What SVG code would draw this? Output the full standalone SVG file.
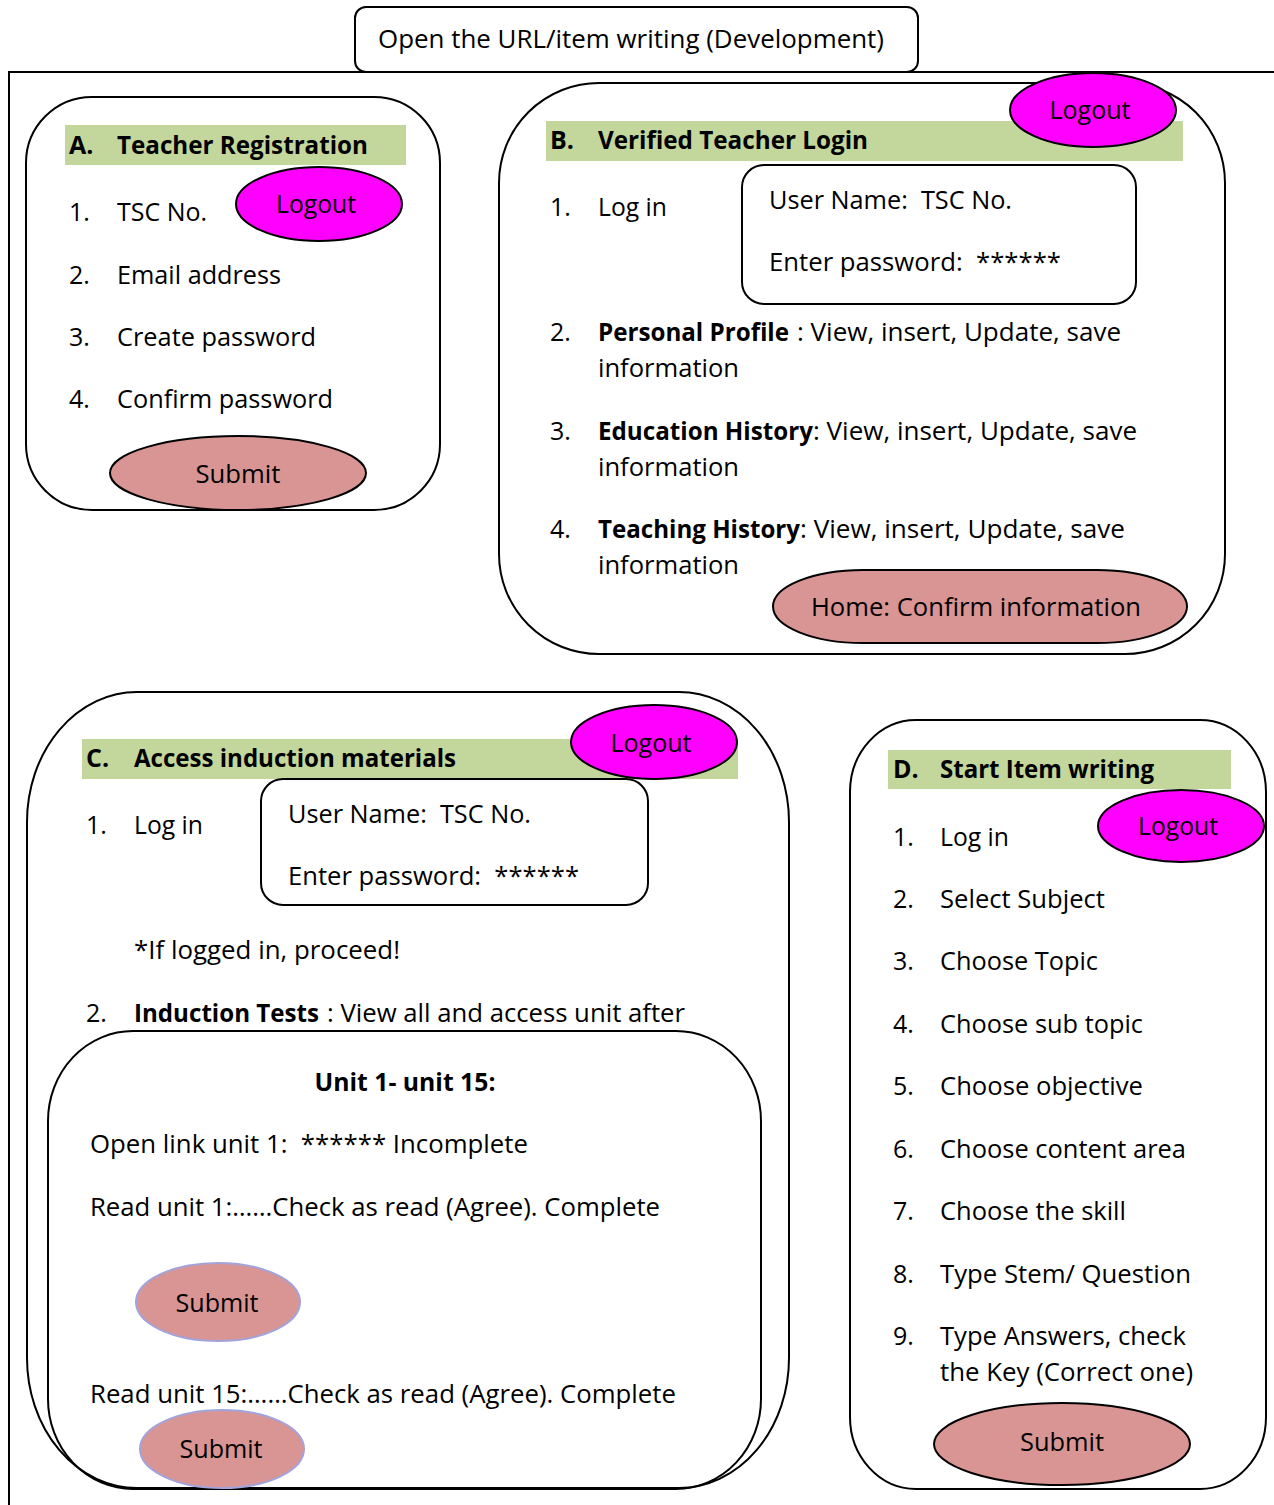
<svg xmlns="http://www.w3.org/2000/svg" width="1274" height="1505" viewBox="0 0 1274 1505">
  <style>
    text { font-family: "Open Sans", "Liberation Sans", sans-serif; font-size: 25px; fill: #000; white-space: pre; }
    .b { font-weight: bold; }
    .mid { text-anchor: middle; }
    .box { fill: none; stroke: #000; stroke-width: 2; }
    .band { fill: #c3d69b; }
    .logout { fill: #ff00ff; stroke: #000; stroke-width: 2; }
    .submit { fill: #d99594; stroke: #000; stroke-width: 2; }
    .submit-soft { fill: #d99594; stroke: #a3a3dc; stroke-width: 2; }
  </style>

  <!-- outer frame -->
  <g id="frame">
    <path class="box" d="M9,1505 V72 H1274"/>
  </g>

  <!-- entry point -->
  <g id="start">
    <rect x="355" y="7" width="563" height="65" rx="11" fill="#fff" stroke="#000" stroke-width="2"/>
    <text x="378" y="48" textLength="506" lengthAdjust="spacingAndGlyphs">Open the URL/item writing (Development)</text>
  </g>

  <!-- A. registration -->
  <g id="registration">
    <rect class="box" x="26" y="97" width="414" height="413" rx="66" ry="66"/>
    <rect class="band" x="65" y="125" width="341" height="40"/>
    <text class="b" x="69" y="154">A.</text>
    <text class="b" x="117" y="154" textLength="251" lengthAdjust="spacingAndGlyphs">Teacher Registration</text>
    <text x="69" y="221">1.</text>
    <text x="117" y="221" textLength="90" lengthAdjust="spacingAndGlyphs">TSC No.</text>
    <text x="69" y="284">2.</text>
    <text x="117" y="284" textLength="164" lengthAdjust="spacingAndGlyphs">Email address</text>
    <text x="69" y="346">3.</text>
    <text x="117" y="346" textLength="199" lengthAdjust="spacingAndGlyphs">Create password</text>
    <text x="69" y="408">4.</text>
    <text x="117" y="408" textLength="216" lengthAdjust="spacingAndGlyphs">Confirm password</text>
    <g id="registration-logout">
      <ellipse class="logout" cx="319" cy="204" rx="83" ry="37"/>
      <text class="mid" x="316" y="213" textLength="80" lengthAdjust="spacingAndGlyphs">Logout</text>
    </g>
    <g id="registration-submit">
      <ellipse class="submit" cx="238" cy="473" rx="128" ry="37"/>
      <text class="mid" x="238" y="483" textLength="85" lengthAdjust="spacingAndGlyphs">Submit</text>
    </g>
  </g>

  <!-- B. verified login -->
  <g id="login">
    <rect class="box" x="499" y="83" width="726" height="571" rx="100" ry="100"/>
    <rect class="band" x="546" y="121" width="637" height="40"/>
    <text class="b" x="550" y="149">B.</text>
    <text class="b" x="598" y="149" textLength="270" lengthAdjust="spacingAndGlyphs">Verified Teacher Login</text>
    <g id="login-logout">
      <ellipse class="logout" cx="1093" cy="110" rx="83" ry="37"/>
      <text class="mid" x="1090" y="119" textLength="81" lengthAdjust="spacingAndGlyphs">Logout</text>
    </g>
    <text x="550" y="216">1.</text>
    <text x="598" y="216" textLength="69" lengthAdjust="spacingAndGlyphs">Log in</text>
    <g id="login-credentials">
      <rect class="box" x="742" y="165" width="394" height="139" rx="22"/>
      <text x="769" y="209" textLength="243" lengthAdjust="spacingAndGlyphs">User Name:  TSC No.</text>
      <text x="769" y="271" textLength="292" lengthAdjust="spacingAndGlyphs">Enter password:  ******</text>
    </g>
    <text x="550" y="341">2.</text>
    <text class="b" x="598" y="341" textLength="191" lengthAdjust="spacingAndGlyphs">Personal Profile</text>
    <text x="797" y="341" textLength="324" lengthAdjust="spacingAndGlyphs">: View, insert, Update, save</text>
    <text x="598" y="377" textLength="141" lengthAdjust="spacingAndGlyphs">information</text>
    <text x="550" y="440">3.</text>
    <text class="b" x="598" y="440" textLength="215" lengthAdjust="spacingAndGlyphs">Education History</text>
    <text x="813" y="440" textLength="324" lengthAdjust="spacingAndGlyphs">: View, insert, Update, save</text>
    <text x="598" y="476" textLength="141" lengthAdjust="spacingAndGlyphs">information</text>
    <text x="550" y="538">4.</text>
    <text class="b" x="598" y="538" textLength="202" lengthAdjust="spacingAndGlyphs">Teaching History</text>
    <text x="800" y="538" textLength="325" lengthAdjust="spacingAndGlyphs">: View, insert, Update, save</text>
    <text x="598" y="574" textLength="141" lengthAdjust="spacingAndGlyphs">information</text>
    <g id="login-home">
      <rect class="submit" x="773" y="570" width="414" height="73" rx="90" ry="36.5"/>
      <text class="mid" x="976" y="616" textLength="330" lengthAdjust="spacingAndGlyphs">Home: Confirm information</text>
    </g>
  </g>

  <!-- C. induction materials -->
  <g id="induction">
    <rect class="box" x="27" y="692" width="762" height="796" rx="110" ry="130"/>
    <rect class="band" x="82" y="739" width="656" height="40"/>
    <text class="b" x="86" y="767">C.</text>
    <text class="b" x="134" y="767" textLength="322" lengthAdjust="spacingAndGlyphs">Access induction materials</text>
    <g id="induction-logout">
      <ellipse class="logout" cx="654" cy="742" rx="83" ry="37"/>
      <text class="mid" x="651" y="752" textLength="81" lengthAdjust="spacingAndGlyphs">Logout</text>
    </g>
    <text x="86" y="834">1.</text>
    <text x="134" y="834" textLength="69" lengthAdjust="spacingAndGlyphs">Log in</text>
    <g id="induction-credentials">
      <rect class="box" x="261" y="779" width="387" height="126" rx="22"/>
      <text x="288" y="823" textLength="243" lengthAdjust="spacingAndGlyphs">User Name:  TSC No.</text>
      <text x="288" y="885" textLength="291" lengthAdjust="spacingAndGlyphs">Enter password:  ******</text>
    </g>
    <text x="134" y="959" textLength="266" lengthAdjust="spacingAndGlyphs">*If logged in, proceed!</text>
    <text x="86" y="1022">2.</text>
    <text class="b" x="134" y="1022" textLength="185" lengthAdjust="spacingAndGlyphs">Induction Tests</text>
    <text x="327" y="1022" textLength="358" lengthAdjust="spacingAndGlyphs">: View all and access unit after</text>

    <g id="units">
      <rect class="box" x="48" y="1031" width="713" height="458" rx="85" ry="90"/>
      <text class="b mid" x="405" y="1091" textLength="181" lengthAdjust="spacingAndGlyphs">Unit 1- unit 15:</text>
      <text x="90" y="1153" textLength="438" lengthAdjust="spacingAndGlyphs">Open link unit 1:  ****** Incomplete</text>
      <text x="90" y="1216" textLength="570" lengthAdjust="spacingAndGlyphs">Read unit 1:……Check as read (Agree). Complete</text>
      <g id="unit1-submit">
        <ellipse class="submit-soft" cx="218" cy="1302" rx="82" ry="39"/>
        <text class="mid" x="217" y="1312" textLength="83" lengthAdjust="spacingAndGlyphs">Submit</text>
      </g>
      <text x="90" y="1403" textLength="586" lengthAdjust="spacingAndGlyphs">Read unit 15:……Check as read (Agree). Complete</text>
      <g id="unit15-submit">
        <ellipse class="submit-soft" cx="222" cy="1449" rx="82" ry="39"/>
        <text class="mid" x="221" y="1458" textLength="83" lengthAdjust="spacingAndGlyphs">Submit</text>
      </g>
    </g>
  </g>

  <!-- D. item writing -->
  <g id="item-writing">
    <rect class="box" x="850" y="720" width="416" height="769" rx="66" ry="72"/>
    <rect class="band" x="888" y="750" width="343" height="39"/>
    <text class="b" x="893" y="778">D.</text>
    <text class="b" x="940" y="778" textLength="214" lengthAdjust="spacingAndGlyphs">Start Item writing</text>
    <text x="893" y="846">1.</text>
    <text x="940" y="846" textLength="69" lengthAdjust="spacingAndGlyphs">Log in</text>
    <text x="893" y="908">2.</text>
    <text x="940" y="908" textLength="165" lengthAdjust="spacingAndGlyphs">Select Subject</text>
    <text x="893" y="970">3.</text>
    <text x="940" y="970" textLength="158" lengthAdjust="spacingAndGlyphs">Choose Topic</text>
    <text x="893" y="1033">4.</text>
    <text x="940" y="1033" textLength="203" lengthAdjust="spacingAndGlyphs">Choose sub topic</text>
    <text x="893" y="1095">5.</text>
    <text x="940" y="1095" textLength="203" lengthAdjust="spacingAndGlyphs">Choose objective</text>
    <text x="893" y="1158">6.</text>
    <text x="940" y="1158" textLength="246" lengthAdjust="spacingAndGlyphs">Choose content area</text>
    <text x="893" y="1220">7.</text>
    <text x="940" y="1220" textLength="186" lengthAdjust="spacingAndGlyphs">Choose the skill</text>
    <text x="893" y="1283">8.</text>
    <text x="940" y="1283" textLength="251" lengthAdjust="spacingAndGlyphs">Type Stem/ Question</text>
    <text x="893" y="1345">9.</text>
    <text x="940" y="1345" textLength="246" lengthAdjust="spacingAndGlyphs">Type Answers, check</text>
    <text x="940" y="1381" textLength="253" lengthAdjust="spacingAndGlyphs">the Key (Correct one)</text>
    <g id="item-writing-logout">
      <ellipse class="logout" cx="1181" cy="826" rx="83" ry="36"/>
      <text class="mid" x="1178" y="835" textLength="80" lengthAdjust="spacingAndGlyphs">Logout</text>
    </g>
    <g id="item-writing-submit">
      <ellipse class="submit" cx="1062" cy="1444" rx="128" ry="41"/>
      <text class="mid" x="1062" y="1451" textLength="84" lengthAdjust="spacingAndGlyphs">Submit</text>
    </g>
  </g>

  <!-- no connectors are drawn between the panels -->
  <g id="connectors"/>
</svg>
